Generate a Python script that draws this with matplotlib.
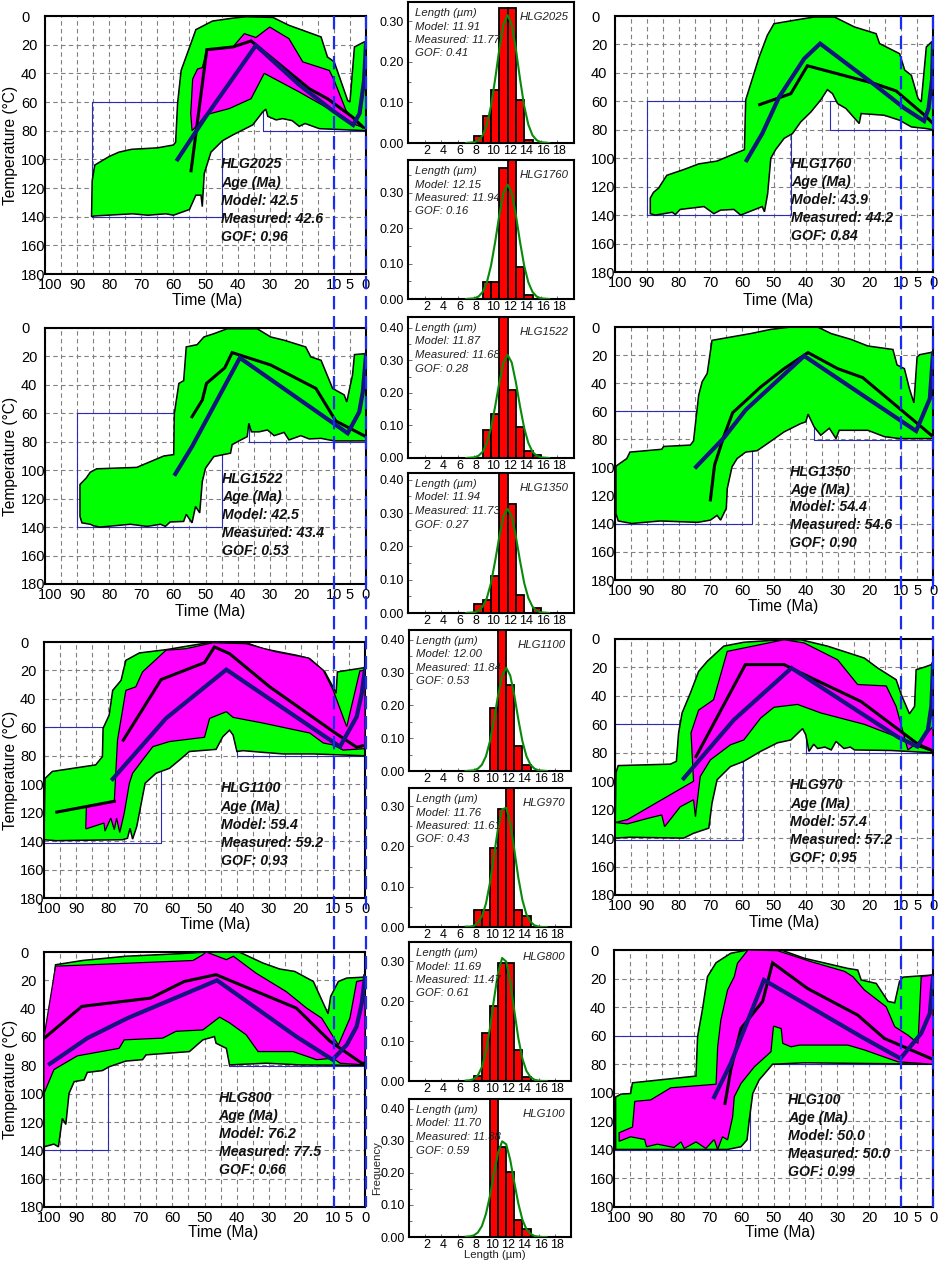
"""
Thermal history panels (HeFTy style) with track length histograms for the HLG samples.
Left and right columns: T-t paths. Middle column: length distributions.
Output: out.png
"""
import numpy as np
import matplotlib
matplotlib.use("Agg")
import matplotlib.pyplot as plt
from matplotlib.lines import Line2D
from matplotlib.transforms import ScaledTranslation

plt.rcParams["font.family"] = ["Liberation Sans", "DejaVu Sans"]

W, H = 941, 1262

# ---- T-t data: (time Ma, temperature C) ----
hlg2025_green_top = [(85.5,140),(85.3,115),(84.5,104),(80,98),(77,95),(73,93),(65,92),(60,90),(59.3,88),(58.7,61),(57.6,38),(55,22),(53,9.5),(47.8,3.5),(41.5,1.5),(37.4,0.5),(29,1),(24,6.5),(14,14.6),(12,28.6),(9.9,32),(5.7,59),(5,60),(3.6,21.6),(0.5,18),(0,18)]
hlg2025_green_bot = [(85.5,140),(84.6,139.5),(72.7,138),(68,139),(62.3,138),(60,139),(55,135),(53,125),(51.4,125),(51,133),(50.4,110),(48.3,95),(44.7,87),(41.5,83),(35.3,76),(32.2,67),(31.2,65),(30.6,70),(28,72.5),(26,71.6),(23,73),(20.8,77),(19,75),(14.5,78.6),(10.4,79),(0,80)]
hlg2025_mag_top = [(54.6,68),(54,44),(52.5,37),(51,36),(49.6,24),(41.5,21.6),(37.9,12.3),(34.3,15),(30,7.7),(24,15.8),(19.7,32),(11.4,38),(9.9,45),(6.2,66),(2,76),(0,78.6)]
hlg2025_mag_bot = [(54.6,68),(54.2,80),(52,75),(50,69),(42.6,64.6),(35.8,57.7),(31.7,40),(20.8,53),(13.5,62.3),(4.2,75),(0,78.6)]
hlg2025_black = [(54.5,108),(49.6,23.5),(41.5,21.6),(35.8,17.4),(17.7,50.7),(12,57.7),(4.2,70.5),(1,77.4)]
hlg2025_blue = [(58.7,100),(50,70.5),(34.3,20.5),(20.8,48),(10.4,66),(4,76),(2,68),(0.6,45),(0,19)]
hlg2025_boxes = [(85.3,60,45,140),(32,60,0,80)]

hlg1760_green_top = [(88.9,139),(88.9,128),(87.9,124),(86.3,121),(83.7,112),(78.4,108),(73.7,104),(67.9,102),(62.6,97),(59.3,94),(58.9,59),(56.8,44),(54.7,29),(52.1,13.6),(50,5.4),(42.6,2.6),(37.4,0.7),(31,0.7),(24.7,7.7),(17.9,12.4),(16.8,19.4),(10.5,26.5),(8.9,38),(6.8,41.7),(4.7,58),(3.7,60.4),(2.1,21.8),(0.5,18.3),(0,18)]
hlg1760_green_bot = [(88.9,139),(87.3,140),(82,138),(81,139.6),(79.5,136),(72,134),(68.9,139),(66.8,136.5),(62.6,136),(60.5,140),(53.7,134),(53,137.7),(52,125),(51,100),(49.5,94),(46.8,86),(44.2,82.7),(41.6,74.5),(38.4,67.5),(35.3,59),(33.2,51.8),(31.6,54.6),(30,61.6),(27.4,65),(23.2,75.6),(22.6,68.6),(15.3,69.8),(10.5,73.3),(6.8,78),(2.6,79),(0,80)]
hlg1760_black = [(54.5,62.3),(44.7,54.6),(39.5,35),(18.4,47.5),(11.6,52.7),(2.6,69.8),(0,75.6)]
hlg1760_blue = [(58.6,101.4),(53.7,82.7),(48.4,57),(40.5,30),(35.5,19.4),(19.5,46.4),(8.9,65),(2.8,73.8),(1.4,65),(0.3,45),(0,19)]
hlg1760_boxes = [(90,60,44.5,140),(32.3,60,0,80)]

hlg1522_green_top = [(89.1,132.5),(89.1,110),(87.2,105.6),(85.9,101.4),(83.9,99),(71.4,98),(69.3,96),(67.2,94),(63,90),(59.9,89),(59.7,60),(58.3,39),(56.8,37),(56,13.3),(52.6,11.7),(50.5,6.3),(47.4,4),(43.2,0.5),(33.9,0.5),(29.7,6.3),(25.5,8.6),(18.8,13.3),(17.2,20.3),(14,22.7),(10.4,42.5),(6.8,47),(6,52),(4.2,33),(3.6,18.7),(0,18)]
hlg1522_green_bot = [(89.1,132.5),(88.5,137),(85.9,138),(84.9,139),(83,140),(73.4,138),(68.2,139.5),(64,138),(62.5,139.5),(61,136.4),(56.8,136),(56,131),(54.2,137),(53.1,125.5),(51.8,130),(51,108),(50,98.6),(47.4,90.4),(42.2,88),(41.7,82),(39,78.7),(37,76.4),(36.5,67),(35.7,73),(33.3,73),(30.7,71.7),(28.6,75.7),(25.5,73.4),(24,78.7),(20.3,75.7),(17.7,78),(14,77.6),(9.9,79.4),(0,79.4)]
hlg1522_black = [(54.2,62.4),(51,50.7),(49.7,39),(44,28),(41.7,17.3),(29.7,26),(15.6,42.5),(9.4,65.4),(0,76.4)]
hlg1522_blue = [(59.4,102.6),(54.2,83.4),(39.3,21),(5.7,74),(2.1,59),(1,45),(0,19)]
hlg1522_boxes = [(90,60,45,140),(36.6,60,0,80)]

hlg1350_green_top = [(99.7,132.7),(99.7,99),(96.3,93.6),(95.3,89),(85.3,87),(84.7,85),(76.3,84),(75.3,81),(73.7,48.6),(72.6,39),(71,33),(69.5,9.5),(57.4,4.7),(51,1.7),(44.7,0),(36.3,0),(32,4.7),(25.8,8.8),(20.5,13.5),(12.6,16),(11.3,27),(9,29.6),(7.4,44),(6,54),(5,21.3),(4.2,19.7),(0,17.8)]
hlg1350_green_bot = [(99.7,132.7),(99,138),(94.7,139.8),(85.8,138),(74,139),(70,137.4),(67.9,134),(66.8,137.4),(65,129),(64.7,115),(63.2,99.5),(61.6,93.6),(58.9,89),(55.3,88),(52.1,83),(46.8,74.6),(41.6,68.7),(40,67.5),(39.3,62),(37.4,71),(35.3,77),(32.6,72),(30.5,79.4),(29.5,73.5),(20.5,73.5),(15.3,78),(10.5,79.4),(0,79.4)]
hlg1350_black = [(70,123),(68.7,98.3),(65.8,78),(63,61),(54.2,42.7),(46.8,29.6),(39.3,18.2),(30,29.6),(22.1,36),(0,78)]
hlg1350_blue = [(74.5,99.5),(65.8,79),(58.9,59),(40.5,20.6),(5.3,74),(1,51),(0,19)]
hlg1350_boxes = [(100,60,56.8,140.5),(37.3,60,0,80.5)]

hlg1100_green_top = [(100,139),(99.7,96),(97.4,91),(83.9,86.4),(81.8,80.6),(81.6,60.7),(79.7,51.4),(78.6,34),(76,27),(74.5,12.9),(70.3,7.7),(62,5.4),(49.5,0.7),(37,0.5),(31.8,4.7),(21.4,9.3),(17.2,11.7),(12.5,21),(9.4,34),(9,36),(8.6,21),(0,18)]
hlg1100_green_bot = [(100,139),(96.3,139.7),(75.5,139),(74,138),(73.2,131),(72.4,138.6),(71.1,129.7),(68.5,99.3),(65.1,92.3),(60.9,88.8),(57.8,83),(54.7,77),(46.4,75.5),(44.3,66.6),(42.2,62),(41.1,65.4),(39.9,77),(38,76.4),(30.7,77.8),(25.5,78.7),(16.1,78.7),(0,80)]
hlg1100_mag_top = [(87,131),(86.8,115.7),(78.1,112),(77.1,69),(74.5,34),(71.4,31.5),(69.3,21),(62,5.8),(55.7,4.7),(47.4,0.5),(37,1.2),(27.6,7),(17.7,11.2),(13,19.9),(9.9,34),(5.7,59.6),(1.6,20.3),(0,20)]
hlg1100_mag_bot = [(87,131),(86.8,131.3),(81.3,127.3),(81,133),(79.2,123.8),(78.1,132),(77.4,123.8),(76.4,134),(75,120.3),(73.4,99.3),(72.4,92.3),(69.3,83),(66.1,73.6),(60.9,70),(50,67),(48.4,53.7),(43.2,49),(41.1,53),(31.8,57),(17.2,64),(13,71),(9.9,72.4),(6.8,76),(0,75)]
hlg1100_black = [(96,119.6),(78.1,112),(np.nan,np.nan),(75.3,69),(63.5,26.4),(50,14.5),(46.9,3.5),(42.2,8.2),(29.7,31.5),(9.9,63),(2.6,74),(0.8,73)]
hlg1100_blue = [(78.6,96.3),(62,53.7),(43.2,19.4),(7.8,73.6),(2.6,52.6),(1,36),(0,19)]
hlg1100_boxes = [(100,60,63.4,141),(39.8,60,0,80.5)]

hlg970_green_top = [(100,140),(99.7,94),(99,89),(82.6,88),(80.7,86),(80,66),(78.9,52),(76.3,38),(73.7,22.8),(71,15.7),(65.8,5),(59.5,2.3),(51,1),(41.6,0.5),(33.2,5),(21.6,13.4),(17.4,20.4),(11.6,28.6),(10,39),(7.4,52.6),(5.8,47.4),(5.3,21.6),(2.6,19.7),(0,17.6)]
hlg970_green_bot = [(100,140),(95.3,139.4),(78.4,140),(75.3,136.6),(70.5,133),(69.5,115.5),(67.9,99),(63.7,89.7),(59.5,86),(54.2,79),(48.9,73),(44.7,71),(41,63),(40,67.4),(39,79),(37.5,74),(36.3,77),(34,76),(32,78),(30.5,72),(28,77),(26,76),(24.7,78),(13.2,78.4),(0,80)]
hlg970_mag_top = [(100,129),(96.1,127),(75.3,100),(76.1,66),(73.7,50),(69,42.7),(64.7,8.7),(46.8,0.5),(40.5,2.8),(30,14.6),(23.7,32),(14.7,33),(11.6,47.4),(7.9,78),(3.7,71),(1,64),(0,61.5)]
hlg970_mag_bot = [(100,129),(96.1,130),(89.5,126),(85.3,123.7),(84.4,132),(79.5,118),(75.3,113),(74.7,125),(73.2,96.7),(70,85),(63.7,74.4),(59.5,71),(54.2,55.6),(50,48),(42.6,46),(35.3,52),(21.6,60),(10,70),(4.7,75.6),(1,78.4),(0,79)]
hlg970_black = [(74.5,82.6),(59,18),(46.8,18),(44.2,21),(22.6,44),(4.7,74),(0.7,78)]
hlg970_blue = [(78.4,98),(62.6,56.8),(44.5,20.4),(11,69),(4.9,75.6),(1.6,64),(0.5,47),(0,18)]
hlg970_boxes = [(100,60,59.7,141),(40,60,0,80.5)]

hlg800_green_top = [(100,61),(98.4,45.5),(96.9,19.6),(96.4,9),(88,6),(74.5,3),(57.8,1.2),(49.5,0),(39,0.2),(31.8,7.8),(26.6,12),(21.9,13.7),(16.1,20.8),(11.5,43.6),(10.7,31.4),(8.3,20.8),(5.7,18.4),(0,17.7)]
hlg800_green_bot = [(100,137.5),(96.9,135.6),(95.5,137.5),(94.3,117.5),(93.2,121.7),(92.2,99.8),(90.6,91.5),(87.5,90.3),(86.5,85),(81.8,83.7),(79.7,81),(74.5,77),(69.3,76),(68.2,72.6),(54.7,70.3),(50.5,62),(46.9,59.7),(46.4,64.4),(43.2,68),(42.2,79.7),(30.7,78.5),(20.3,79.7),(0,80)]
hlg800_mag_top = [(100,60),(96.4,10),(53.6,6),(50.5,1.9),(49.5,0),(43.2,5.4),(41,3),(33.9,15),(24.5,28),(18.2,39.6),(13.5,46.7),(8.3,65.6),(4.7,46.7),(2.6,20.8),(0,19.6)]
hlg800_mag_bot = [(100,99.8),(96.9,83),(92.7,77.4),(89.6,73.3),(76.6,68),(75,62),(63,60.8),(58.9,56),(50.5,55),(45.3,46),(42.2,50),(37,58.5),(33.3,70.3),(22.4,70.3),(15.1,76),(9.9,75),(7.8,78.5),(0,79.7)]
hlg800_black = [(100,61),(88.2,38.4),(66.7,32.5),(56.3,20.8),(46.4,16),(21.4,39.6),(10.9,63),(1,78.5),(0,78.5)]
hlg800_blue = [(98.2,79),(86.5,60.8),(74,46.7),(46.1,20),(21.4,59.7),(10.1,76),(5.7,65.6),(2.6,52.6),(1,36),(0,17.2)]
hlg800_boxes = [(100,60,80.2,140),(42.5,60,0,80.5)]

hlg100_green_top = [(99.5,139.7),(99.5,103),(97.9,101),(94.8,100.5),(94.2,93),(74.3,88.3),(73.8,60.7),(72.3,42),(70.7,18.7),(68,8.9),(63.4,2.3),(58.1,0),(47.6,0),(40.3,5.8),(26.7,12.9),(23.6,14),(22.5,21),(17.8,23.4),(14.1,36),(12,37),(10.5,22),(9.4,19),(0,17.5)]
hlg100_green_bot = [(99.5,139.7),(78,139.7),(64.4,139.7),(60.2,137.8),(58.3,133),(57.6,119),(56.5,100.5),(54.5,91),(51.8,84),(50.3,80),(40.3,79),(0,80)]
hlg100_mag_top = [(98.4,133),(98.4,128),(94.2,124),(93.5,106),(88.5,105),(82.2,96.5),(68,94),(67.5,67.8),(66.5,49),(64.4,28),(62.3,18.7),(61.3,9.3),(58,0),(48.7,0.5),(38.2,8.2),(27.7,15),(25.1,18.7),(21.5,28),(14.7,39.7),(12,53.7),(7.9,59.6),(4.7,65.4),(3.7,18.7),(0,17.5)]
hlg100_mag_bot = [(98.4,133),(98.4,134),(94.8,130.8),(90.4,132.7),(89.8,137.8),(86.4,136),(81.2,138.3),(79,134.4),(78,139),(74.3,134.4),(71.2,139),(68.6,132.7),(67.5,139.7),(66,130.8),(64.4,133),(62.8,116.8),(62.3,102.8),(60.2,93.5),(56,81.8),(50.8,71.3),(50,53.3),(47.6,55),(47.1,65.4),(44.5,67.8),(41.9,66.6),(26.7,66.6),(21.5,70),(15.2,75),(11,78.3),(0,80)]
hlg100_black = [(65.2,107.5),(63.4,84),(60.2,55),(53.4,36),(50.3,9),(39.3,27),(23.6,45.6),(15.2,62),(0,76.6)]
hlg100_blue = [(68.6,103),(63.4,79.4),(53,21),(22.5,60.7),(10.2,76),(3.7,58.4),(1,44.4),(0,18.7)]
hlg100_boxes = [(100,60,57.5,140),(50,60,0,80)]

# ---- sample summaries ----
names_left = ["HLG2025", "HLG1522", "HLG1100", "HLG800"]
names_right = ["HLG1760", "HLG1350", "HLG970", "HLG100"]
age_model = {"HLG2025":"42.5","HLG1760":"43.9","HLG1522":"42.5","HLG1350":"54.4","HLG1100":"59.4","HLG970":"57.4","HLG800":"76.2","HLG100":"50.0"}
age_meas = {"HLG2025":"42.6","HLG1760":"44.2","HLG1522":"43.4","HLG1350":"54.6","HLG1100":"59.2","HLG970":"57.2","HLG800":"77.5","HLG100":"50.0"}
age_gof = {"HLG2025":"0.96","HLG1760":"0.84","HLG1522":"0.53","HLG1350":"0.90","HLG1100":"0.93","HLG970":"0.95","HLG800":"0.66","HLG100":"0.99"}

TT = {
    "HLG2025": (hlg2025_green_top, hlg2025_green_bot, hlg2025_mag_top, hlg2025_mag_bot, hlg2025_black, hlg2025_blue, hlg2025_boxes),
    "HLG1760": (hlg1760_green_top, hlg1760_green_bot, None, None, hlg1760_black, hlg1760_blue, hlg1760_boxes),
    "HLG1522": (hlg1522_green_top, hlg1522_green_bot, None, None, hlg1522_black, hlg1522_blue, hlg1522_boxes),
    "HLG1350": (hlg1350_green_top, hlg1350_green_bot, None, None, hlg1350_black, hlg1350_blue, hlg1350_boxes),
    "HLG1100": (hlg1100_green_top, hlg1100_green_bot, hlg1100_mag_top, hlg1100_mag_bot, hlg1100_black, hlg1100_blue, hlg1100_boxes),
    "HLG970": (hlg970_green_top, hlg970_green_bot, hlg970_mag_top, hlg970_mag_bot, hlg970_black, hlg970_blue, hlg970_boxes),
    "HLG800": (hlg800_green_top, hlg800_green_bot, hlg800_mag_top, hlg800_mag_bot, hlg800_black, hlg800_blue, hlg800_boxes),
    "HLG100": (hlg100_green_top, hlg100_green_bot, hlg100_mag_top, hlg100_mag_bot, hlg100_black, hlg100_blue, hlg100_boxes),
}

# ---- track length histograms, bins 8-9, 9-10 ... 14-15, 15-16 ----
bin_left = [8, 9, 10, 11, 12, 13, 14, 15]
hist_hlg2025 = [0.016, 0.066, 0.13, 0.333, 0.333, 0.107, 0.008, 0]
hist_hlg1760 = [0, 0.048, 0.048, 0.371, 0.42, 0.091, 0.012, 0]
hist_hlg1522 = [0, 0.085, 0.136, 0.46, 0.21, 0.095, 0.02, 0.01]
hist_hlg1350 = [0.026, 0.04, 0.11, 0.45, 0.327, 0.054, 0, 0.014]
hist_hlg1100 = [0, 0, 0.193, 0.46, 0.262, 0.077, 0.019, 0]
hist_hlg970 = [0.043, 0.043, 0.195, 0.293, 0.37, 0.043, 0.027, 0]
hist_hlg800 = [0.012, 0.12, 0.187, 0.296, 0.296, 0.077, 0.01, 0]
hist_hlg100 = [0, 0, 0.46, 0.28, 0.204, 0.052, 0.026, 0]

fit_x = [7, 7.5, 8, 8.5, 9, 9.5, 10, 10.5, 11, 11.5, 12, 12.5, 13, 13.5, 14, 14.5, 15, 15.5, 16, 16.5, 17]
fit_hlg2025 = [0, 0.001, 0.002, 0.007, 0.019, 0.045, 0.091, 0.157, 0.231, 0.291, 0.315, 0.291, 0.231, 0.157, 0.091, 0.045, 0.019, 0.007, 0.002, 0.001, 0]
fit_hlg1760 = [0, 0.001, 0.002, 0.007, 0.020, 0.047, 0.094, 0.161, 0.237, 0.300, 0.324, 0.300, 0.237, 0.161, 0.094, 0.047, 0.020, 0.007, 0.002, 0.001, 0]
fit_hlg1522 = [0, 0.001, 0.002, 0.007, 0.019, 0.046, 0.092, 0.158, 0.232, 0.293, 0.317, 0.293, 0.232, 0.158, 0.092, 0.046, 0.019, 0.007, 0.002, 0.001, 0]
fit_hlg1350 = [0, 0.001, 0.002, 0.007, 0.019, 0.045, 0.090, 0.156, 0.229, 0.290, 0.313, 0.290, 0.229, 0.156, 0.090, 0.045, 0.019, 0.007, 0.002, 0.001, 0]
fit_hlg1100 = [0, 0.001, 0.002, 0.007, 0.019, 0.045, 0.091, 0.157, 0.231, 0.291, 0.315, 0.291, 0.231, 0.157, 0.091, 0.045, 0.019, 0.007, 0.002, 0.001, 0]
fit_hlg970 = [0.001, 0.001, 0.003, 0.010, 0.026, 0.058, 0.110, 0.178, 0.246, 0.292, 0.296, 0.258, 0.192, 0.122, 0.067, 0.031, 0.013, 0.004, 0.001, 0, 0]
fit_hlg800 = [0.001, 0.002, 0.005, 0.014, 0.035, 0.074, 0.133, 0.206, 0.272, 0.308, 0.299, 0.248, 0.176, 0.107, 0.056, 0.025, 0.010, 0.003, 0.001, 0, 0]
fit_hlg100 = [0.001, 0.002, 0.005, 0.014, 0.034, 0.072, 0.129, 0.199, 0.263, 0.298, 0.289, 0.240, 0.170, 0.104, 0.054, 0.024, 0.010, 0.003, 0.001, 0, 0]

len_model = {"HLG2025":"11.91","HLG1760":"12.15","HLG1522":"11.87","HLG1350":"11.94","HLG1100":"12.00","HLG970":"11.76","HLG800":"11.69","HLG100":"11.70"}
len_meas = {"HLG2025":"11.77","HLG1760":"11.94","HLG1522":"11.68","HLG1350":"11.73","HLG1100":"11.84","HLG970":"11.61","HLG800":"11.47","HLG100":"11.38"}
len_gof = {"HLG2025":"0.41","HLG1760":"0.16","HLG1522":"0.28","HLG1350":"0.27","HLG1100":"0.53","HLG970":"0.43","HLG800":"0.61","HLG100":"0.59"}
HIST = {
    "HLG2025": (hist_hlg2025, fit_hlg2025, 0.347), "HLG1760": (hist_hlg1760, fit_hlg1760, 0.393),
    "HLG1522": (hist_hlg1522, fit_hlg1522, 0.433), "HLG1350": (hist_hlg1350, fit_hlg1350, 0.42),
    "HLG1100": (hist_hlg1100, fit_hlg1100, 0.43), "HLG970": (hist_hlg970, fit_hlg970, 0.345),
    "HLG800": (hist_hlg800, fit_hlg800, 0.348), "HLG100": (hist_hlg100, fit_hlg100, 0.43),
}

# ---- layout in pixels: left, top, right, bottom of axes; xlabel centre; text anchor (Ma, C) ----
TT_POS = {
    "HLG2025": (45, 16, 366, 274), "HLG1522": (45, 328, 366, 584), "HLG1100": (44, 642, 365, 898), "HLG800": (44, 952, 365, 1207),
    "HLG1760": (615, 16, 933, 272), "HLG1350": (615, 327, 933, 580), "HLG970": (615, 639, 933, 895), "HLG100": (614, 950, 933, 1207),
}
XLABEL_AT = {
    "HLG2025": (207, 300), "HLG1522": (210, 612), "HLG1100": (215, 924), "HLG800": (223, 1232),
    "HLG1760": (778, 300), "HLG1350": (783, 607), "HLG970": (784, 922), "HLG100": (780, 1233),
}
TEXT_AT = {
    "HLG2025": (45.2, 103.5), "HLG1760": (44.7, 103.8), "HLG1522": (44.8, 106), "HLG1350": (45, 103),
    "HLG1100": (45, 103), "HLG970": (45, 103), "HLG800": (45.6, 103), "HLG100": (45.5, 105),
}
HIST_POS = {
    "HLG2025": (408, 2, 574, 143), "HLG1760": (408, 160, 574, 299), "HLG1522": (408, 317, 574, 458), "HLG1350": (408, 473, 574, 613),
    "HLG1100": (409, 630, 571, 771), "HLG970": (409, 788, 571, 927), "HLG800": (409, 942, 571, 1081), "HLG100": (409, 1099, 571, 1237),
}


def add_axes(fig, box):
    l, t, r, b = box
    return fig.add_axes([l / W, 1 - b / H, (r - l) / W, (b - t) / H])


def xy(pts):
    a = np.array(pts, dtype=float)
    return a[:, 0], a[:, 1]


def draw_tt(fig, name, ylabel):
    box = TT_POS[name]
    ax = add_axes(fig, box)
    gt, gb, mt, mb, black, blue, boxes = TT[name]

    ax.set_xlim(100, 0); ax.set_ylim(180, 0)
    ax.set_xticks([100, 90, 80, 70, 60, 50, 40, 30, 20, 10, 5, 0])
    ax.set_xticks(np.arange(5, 100, 5), minor=True)
    ax.set_yticks(np.arange(0, 181, 20))
    ax.grid(which="both", color="#808080", ls=(0, (4, 3)), lw=0.8)
    ax.set_axisbelow(True)
    ax.tick_params(which="both", length=0)
    ax.tick_params(axis="x", labelsize=10.5, pad=3)
    ax.tick_params(axis="y", labelsize=10.5, pad=17.3)
    for lab in ax.get_yticklabels():
        lab.set_ha("left")
    first = ax.get_xticklabels()[0]
    first.set_transform(first.get_transform() + ScaledTranslation(5 / 100, 0, fig.dpi_scale_trans))

    # constraint boxes sit under the envelopes
    for t0, T0, t1, T1 in boxes:
        ax.plot([t0, t1, t1, t0, t0], [T0, T0, T1, T1, T0], color="#2a2ab4", lw=0.8, zorder=1.5)

    ux, uy = xy(gt); lx, ly = xy(gb)
    ax.fill(np.r_[ux, lx[::-1]], np.r_[uy, ly[::-1]], fc="#00ff00", ec="black", lw=1.1, zorder=2)
    if mt is not None:
        ux, uy = xy(mt); lx, ly = xy(mb)
        ax.fill(np.r_[ux, lx[::-1]], np.r_[uy, ly[::-1]], fc="#ff00ff", ec="black", lw=0.9, zorder=3)
    ax.plot(*xy(black), color="black", lw=2.2, zorder=4, solid_joinstyle="miter")
    ax.plot(*xy(blue), color="#14147e", lw=3, zorder=5, solid_joinstyle="miter")

    tx, ty = TEXT_AT[name]
    lines = [name, "Age (Ma)", f"Model: {age_model[name]}", f"Measured: {age_meas[name]}", f"GOF: {age_gof[name]}"]
    for i, s in enumerate(lines):
        ax.text(tx, ty + i * 12.7, s, fontsize=10.2, style="italic", weight="bold",
                ha="left", va="center", color="#111111", zorder=7)

    for sp in ax.spines.values():
        sp.set_linewidth(1.5)
    ax.set_xlabel("Time (Ma)", fontsize=11.2)
    lx0, ly0 = XLABEL_AT[name]
    ax.xaxis.set_label_coords((lx0 - box[0]) / (box[2] - box[0]), 1 - (ly0 - box[1]) / (box[3] - box[1]))
    ax.xaxis.label.set_va("center")
    if ylabel:
        ax.set_ylabel("Temperature (°C)", fontsize=11.2)
        ax.yaxis.set_label_coords(-(box[0] - 11) / (box[2] - box[0]), 0.5)
        ax.yaxis.label.set_va("center")
    return ax


def draw_hist(fig, name):
    box = HIST_POS[name]
    ax = add_axes(fig, box)
    vals, fit, top = HIST[name]
    ax.bar(bin_left, vals, width=1, align="edge", fc="#ff0000", ec="black", lw=1.3, zorder=2)
    ax.plot(fit_x, fit, color="#078a07", lw=1.5, zorder=3)
    ax.set_xlim(0, 20); ax.set_ylim(0, top)
    ax.set_xticks(np.arange(2, 19, 2))
    ax.set_yticks(np.arange(0, top, 0.1))
    ax.set_yticks(np.arange(0.05, top, 0.1), minor=True)
    ax.set_yticklabels([f"{v:.2f}" for v in np.arange(0, top, 0.1)])
    ax.tick_params(axis="y", which="major", direction="in", length=3, width=0.6, color="#555555", labelsize=9, pad=3)
    ax.tick_params(axis="y", which="minor", direction="in", length=2, width=0.6, color="#555555")
    ax.tick_params(axis="x", direction="in", length=2, width=0.6, color="#555555", labelsize=9, pad=1.5)
    for lab in ax.get_xticklabels():
        lab.set_transform(lab.get_transform() + ScaledTranslation(2 / 100, 0, fig.dpi_scale_trans))
    for sp in ax.spines.values():
        sp.set_linewidth(1.5)

    h = box[3] - box[1]
    lines = ["Length (µm)", f"Model: {len_model[name]}", f"Measured: {len_meas[name]}", f"GOF: {len_gof[name]}"]
    for i, s in enumerate(lines):
        ax.text(0.045, 1 - (11 + i * 13.5) / h, s, transform=ax.transAxes, fontsize=8.2,
                style="italic", ha="left", va="center", color="#222222", zorder=6)
    ax.text(0.965, 1 - 15 / h, name, transform=ax.transAxes, fontsize=8.2, style="italic",
            ha="right", va="center", color="#222222", zorder=6)
    return ax


def main():
    fig = plt.figure(figsize=(W / 100, H / 100), dpi=100)
    axes = {}
    for name in names_left:
        axes[name] = draw_tt(fig, name, True)
    for name in names_right:
        axes[name] = draw_tt(fig, name, False)
    for name in HIST_POS:
        axes[name + "_h"] = draw_hist(fig, name)

    fig.text(495 / W, 1 - 1255.5 / H, "Length (µm)", fontsize=8.2, ha="center", va="center", color="#222222")
    fig.text(377 / W, 1 - 1168 / H, "Frequency", fontsize=8.2, rotation=90, ha="center", va="center", color="#222222")

    # dashed markers at 10 and 0 Ma run through each whole column
    fig.canvas.draw()
    for top_name, bot_name in [("HLG2025", "HLG800"), ("HLG1760", "HLG100")]:
        a_top, a_bot = axes[top_name], axes[bot_name]
        for t in (10, 0):
            px, py0 = a_top.transData.transform((t, 0))
            _, py1 = a_bot.transData.transform((t, 180))
            fx, fy0 = fig.transFigure.inverted().transform((px, py0))
            _, fy1 = fig.transFigure.inverted().transform((px, py1))
            fig.add_artist(Line2D([fx, fx], [fy0, fy1], color="#1a2cf0", lw=1.6,
                                  ls=(0, (6, 3)), zorder=20))

    fig.savefig("out.png", dpi=100)


if __name__ == "__main__":
    main()
